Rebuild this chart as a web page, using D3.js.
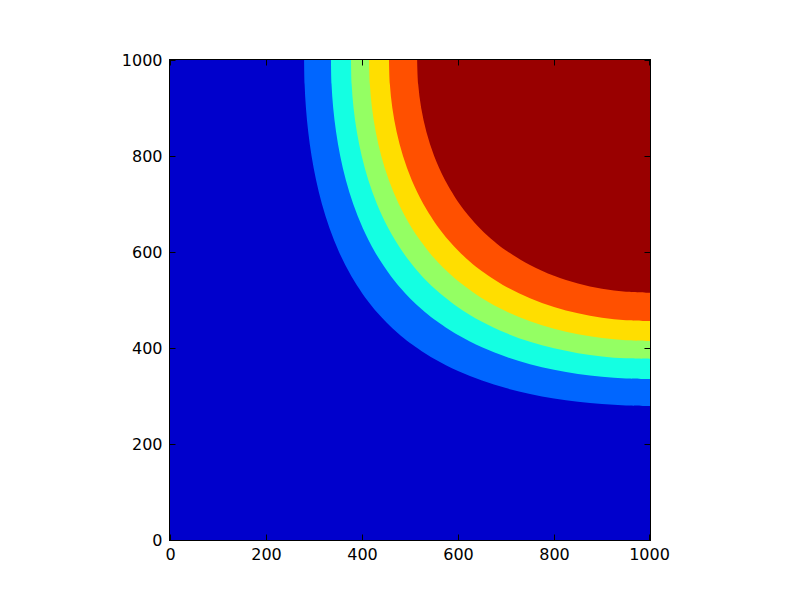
<!DOCTYPE html>
<html>
<head>
<meta charset="utf-8">
<script src="https://cdn.jsdelivr.net/npm/d3@7"></script>
<style>
  body { margin: 0; background: #ffffff; }
  svg { display: block; }
</style>
</head>
<body>
<svg id="chart" width="800" height="600"></svg>
<script>
// ---- data ----
const xTicks = [0, 200, 400, 600, 800, 1000];
const yTicks = [0, 200, 400, 600, 800, 1000];
const bandColors = ["#0000CC", "#0066FF", "#14FFE2", "#94FF63", "#FFDE00", "#FF5000", "#990000"];

// contour boundaries (x, y) between successive bands, lowest first
const boundaryA = [[279.4,1000],[280.4,950],[283.2,900],[288.0,850],[294.9,800],[304.3,750],[316.5,700],[332.2,650],[352.1,600],[377.6,550],[410.5,500],[430.7,475],[452.1,452.1],[475,430.7],[500,410.5],[550,377.6],[600,352.1],[650,332.2],[700,316.5],[750,304.3],[800,294.9],[850,288.0],[900,283.2],[950,280.4],[1000,279.4]];
const boundaryB = [[335.4,1000],[336.5,950],[340.0,900],[346.0,850],[354.6,800],[366.3,750],[381.7,700],[401.5,650],[426.9,600],[459.9,550],[480.2,525],[501.8,501.8],[525,480.2],[550,459.9],[600,426.9],[650,401.5],[700,381.7],[750,366.3],[800,354.6],[850,346.0],[900,340.0],[950,336.5],[1000,335.4]];
const boundaryC = [[377.1,1000],[378.4,950],[382.4,900],[389.3,850],[399.4,800],[413.1,750],[431.1,700],[454.5,650],[484.9,600],[507.6,570],[537.2,537.2],[570,507.6],[600,484.9],[650,454.5],[700,431.1],[750,413.1],[800,399.4],[850,389.3],[900,382.4],[950,378.4],[1000,377.1]];
const boundaryD = [[414.8,1000],[416.3,950],[420.8,900],[428.7,850],[440.1,800],[455.8,750],[476.6,700],[503.7,650],[539.5,600],[552.5,585],[568.3,568.3],[585,552.5],[600,539.5],[650,503.7],[700,476.6],[750,455.8],[800,440.1],[850,428.7],[900,420.8],[950,416.3],[1000,414.8]];
const boundaryE = [[456.3,1000],[458.0,950],[463.2,900],[472.2,850],[485.4,800],[503.5,750],[527.8,700],[559.9,650],[579.9,625],[601.6,601.6],[625,579.9],[650,559.9],[700,527.8],[750,503.5],[800,485.4],[850,472.2],[900,463.2],[950,458.0],[1000,456.3]];
const boundaryF = [[514.9,1000],[517.0,950],[523.3,900],[534.2,850],[550.3,800],[572.8,750],[603.2,700],[622.5,675],[647.5,647.5],[675,622.5],[700,603.2],[750,572.8],[800,550.3],[850,534.2],[900,523.3],[950,517.0],[1000,514.9]];
const boundaries = [boundaryA, boundaryB, boundaryC, boundaryD, boundaryE, boundaryF];

// ---- layout ----
const svg = d3.select("#chart");
const mLeft = 170, mRight = 650, mTop = 60, mBottom = 540;
const x = d3.scaleLinear().domain([0, 1000]).range([mLeft, mRight]);
const y = d3.scaleLinear().domain([0, 1000]).range([mBottom, mTop]);
const font = "'DejaVu Sans', sans-serif";

svg.append("defs").append("clipPath").attr("id", "plotclip")
  .append("rect")
  .attr("x", x(0) - 0.5).attr("y", y(1000) - 0.5)
  .attr("width", x(1000) - x(0) + 1).attr("height", y(0) - y(1000) + 1);

const plot = svg.append("g").attr("clip-path", "url(#plotclip)");

// lowest band covers the whole domain
plot.append("rect")
  .attr("x", x(0) - 0.5).attr("y", y(1000) - 0.5)
  .attr("width", x(1000) - x(0) + 1).attr("height", y(0) - y(1000) + 1)
  .attr("fill", bandColors[0]);

const line = d3.line()
  .x(d => x(d[0]))
  .y(d => y(d[1]))
  .curve(d3.curveCatmullRom.alpha(0.5));

boundaries.forEach((b, i) => {
  const p = line(b);
  const last = b[b.length - 1], first = b[0];
  const extra = "L" + (x(last[0]) + 2) + "," + y(last[1]) +
                "L" + (x(1000) + 2) + "," + (y(1000) - 2) +
                "L" + x(first[0]) + "," + (y(1000) - 2) + "Z";
  plot.append("path")
    .attr("d", p + extra)
    .attr("fill", bandColors[i + 1]);
});

// ---- axes ----
const tickLen = 6;
const gB = svg.append("g").attr("transform", `translate(0,${mBottom + 0.5})`)
  .call(d3.axisBottom(x).tickValues(xTicks).tickSizeInner(-tickLen).tickSizeOuter(0).tickPadding(8).tickFormat(d3.format("d")));
const gL = svg.append("g").attr("transform", `translate(${mLeft - 0.5},0)`)
  .call(d3.axisLeft(y).tickValues(yTicks).tickSizeInner(-tickLen).tickSizeOuter(0).tickPadding(7).tickFormat(d3.format("d")));
const gT = svg.append("g").attr("transform", `translate(0,${mTop - 0.5})`)
  .call(d3.axisTop(x).tickValues(xTicks).tickSizeInner(-tickLen).tickSizeOuter(0).tickFormat(""));
const gR = svg.append("g").attr("transform", `translate(${mRight + 0.5},0)`)
  .call(d3.axisRight(y).tickValues(yTicks).tickSizeInner(-tickLen).tickSizeOuter(0).tickFormat(""));

[gB, gL, gT, gR].forEach(g => {
  g.select(".domain").remove();
  g.selectAll(".tick line").attr("stroke", "#000").attr("stroke-width", 1);
  g.selectAll("text").attr("font-family", font).attr("font-size", 16).attr("fill", "#000");
});

gB.selectAll(".tick").attr("transform", d => `translate(${Math.round(x(d)) + 0.5 - (d === 1000 ? 1 : 0)},0)`);
gT.selectAll(".tick").attr("transform", d => `translate(${Math.round(x(d)) + 0.5 - (d === 1000 ? 1 : 0)},0)`);
gL.selectAll(".tick").attr("transform", d => `translate(0,${Math.round(y(d)) + 0.5})`);
gR.selectAll(".tick").attr("transform", d => `translate(0,${Math.round(y(d)) + 0.5})`);

// frame
svg.append("rect")
  .attr("x", mLeft - 0.5).attr("y", mTop - 0.5)
  .attr("width", mRight - mLeft + 1).attr("height", mBottom - mTop + 1)
  .attr("fill", "none").attr("stroke", "#000").attr("stroke-width", 1);
</script>
</body>
</html>
